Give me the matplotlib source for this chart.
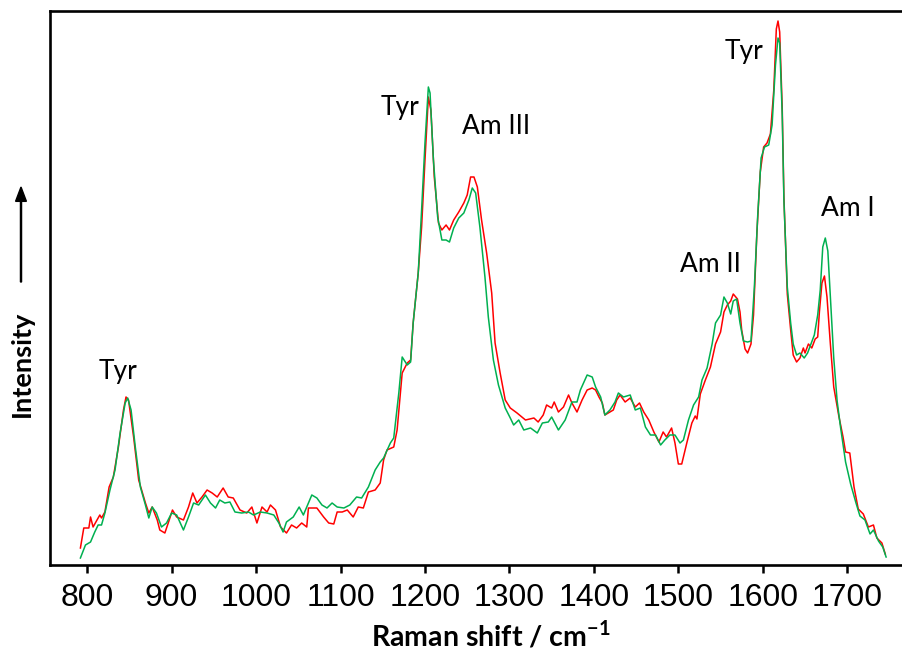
import matplotlib
matplotlib.use('Agg')
import matplotlib.pyplot as plt

# Raman spectra (arbitrary intensity units)
red_shift = [792, 796, 802, 804, 807, 815, 817, 821, 826, 831, 837, 843, 846, 849, 855, 861,
             869, 873, 877, 883, 886, 892, 896, 901, 906, 914, 920, 925, 930, 936, 942, 948,
             954, 961, 967, 973, 981, 989, 995, 1001, 1007, 1013, 1017, 1023, 1029, 1036, 1042,
             1048, 1054, 1060, 1062, 1072, 1080, 1086, 1092, 1096, 1102, 1108, 1115, 1121, 1127,
             1133, 1141, 1147, 1151, 1155, 1163, 1167, 1173, 1179, 1183, 1186, 1192, 1196, 1200,
             1204, 1207, 1211, 1216, 1220, 1225, 1229, 1234, 1240, 1246, 1250, 1254, 1258, 1262,
             1267, 1273, 1279, 1283, 1289, 1295, 1301, 1309, 1319, 1329, 1334, 1340, 1344, 1350,
             1353, 1358, 1364, 1370, 1374, 1380, 1386, 1392, 1398, 1402, 1406, 1410, 1413, 1419,
             1423, 1427, 1431, 1437, 1443, 1449, 1454, 1459, 1465, 1471, 1477, 1482, 1486, 1492,
             1496, 1500, 1504, 1510, 1516, 1520, 1522, 1526, 1532, 1538, 1544, 1550, 1554, 1558,
             1562, 1565, 1567, 1570, 1573, 1575, 1579, 1582, 1586, 1589, 1593, 1597, 1601, 1605,
             1609, 1613, 1616, 1618, 1620, 1623, 1625, 1629, 1633, 1636, 1640, 1644, 1648, 1650,
             1654, 1658, 1662, 1665, 1667, 1670, 1673, 1676, 1680, 1684, 1690, 1695, 1698, 1703,
             1708, 1713, 1719, 1725, 1731, 1735, 1741, 1745]
red_int = [17, 37, 37, 48, 38, 50, 47, 53, 78, 88, 118, 155, 168, 165, 128, 85,
           62, 52, 58, 45, 35, 32, 42, 55, 48, 45, 58, 72, 62, 68, 75, 72,
           68, 77, 68, 67, 55, 52, 58, 42, 58, 53, 60, 55, 38, 32, 40,
           37, 42, 38, 57, 57, 48, 42, 41, 53, 53, 55, 48, 58, 57,
           73, 75, 82, 105, 115, 118, 135, 192, 202, 205, 242, 292, 338, 405,
           468, 455, 388, 342, 335, 340, 335, 345, 353, 362, 370, 388, 388, 378,
           345, 312, 272, 222, 192, 165, 157, 152, 145, 147, 143, 150, 160, 157,
           163, 153, 158, 170, 162, 153, 165, 175, 177, 175, 168, 162, 150, 153,
           155, 165, 170, 163, 167, 158, 162, 153, 145, 133, 123, 133, 128, 137,
           122, 101, 101, 122, 142, 149, 146, 171, 185, 198, 221, 233, 253, 260,
           264, 271, 269, 266, 253, 235, 216, 212, 221, 250, 332, 393, 418, 422,
           431, 475, 536, 544, 533, 457, 368, 271, 235, 210, 203, 207, 217, 212,
           221, 217, 226, 228, 253, 282, 289, 268, 221, 178, 149, 128, 113, 112,
           78, 56, 51, 38, 40, 27, 22, 11]

green_shift = [792, 798, 804, 809, 813, 817, 821, 827, 833, 839, 845, 848, 852, 857, 863, 869,
               873, 877, 882, 888, 894, 900, 906, 914, 920, 926, 932, 940, 946, 952, 957, 963,
               969, 975, 983, 991, 997, 1005, 1013, 1021, 1027, 1032, 1036, 1044, 1051, 1056,
               1062, 1066, 1072, 1078, 1084, 1090, 1096, 1104, 1111, 1119, 1125, 1133, 1141,
               1147, 1151, 1159, 1163, 1169, 1173, 1179, 1183, 1186, 1192, 1196, 1200, 1204,
               1206, 1210, 1215, 1220, 1225, 1229, 1234, 1240, 1246, 1252, 1256, 1260, 1265,
               1271, 1275, 1281, 1287, 1295, 1301, 1305, 1311, 1317, 1325, 1333, 1339, 1346,
               1350, 1358, 1366, 1374, 1380, 1384, 1392, 1398, 1402, 1408, 1413, 1419, 1425,
               1429, 1435, 1443, 1449, 1455, 1461, 1467, 1473, 1479, 1484, 1490, 1496, 1502,
               1506, 1512, 1518, 1524, 1528, 1534, 1540, 1544, 1550, 1554, 1558, 1562, 1565,
               1569, 1573, 1577, 1582, 1586, 1590, 1594, 1598, 1602, 1607, 1611, 1615, 1618,
               1620, 1623, 1625, 1629, 1633, 1636, 1640, 1644, 1649, 1653, 1657, 1661, 1665,
               1668, 1671, 1674, 1677, 1680, 1684, 1688, 1692, 1698, 1704, 1710, 1715, 1721,
               1727, 1731, 1737, 1742, 1746]
green_int = [7, 20, 23, 33, 40, 40, 52, 75, 95, 132, 162, 167, 155, 118, 78, 60,
             47, 58, 52, 38, 42, 52, 50, 35, 48, 62, 60, 70, 62, 57, 65, 62,
             63, 53, 52, 53, 50, 53, 52, 50, 42, 33, 43, 48, 58, 50,
             62, 70, 67, 60, 57, 62, 58, 57, 60, 68, 67, 78, 95,
             103, 107, 122, 127, 172, 208, 200, 203, 242, 292, 355, 422, 478,
             472, 405, 348, 325, 325, 323, 337, 347, 352, 365, 377, 372, 338,
             288, 248, 205, 180, 157, 147, 140, 145, 135, 137, 132, 142, 143,
             148, 135, 145, 163, 163, 175, 190, 188, 178, 168, 150, 155, 163,
             172, 168, 170, 155, 157, 138, 130, 130, 120, 125, 130, 130, 122,
             125, 145, 160, 168, 185, 197, 221, 242, 250, 268, 262, 251, 264,
             266, 242, 224, 223, 224, 278, 350, 407, 418, 420, 440, 500, 527,
             522, 450, 364, 278, 242, 221, 210, 212, 207, 212, 221, 230, 250,
             275, 318, 327, 314, 268, 207, 164, 138, 103, 81, 63, 49, 45,
             31, 35, 24, 18, 8]

peak_names = ['Tyr', 'Tyr', 'Am III', 'Am II', 'Tyr', 'Am I']
peak_x = [837, 1171, 1284, 1538, 1578, 1701]
peak_y = [194, 457, 438, 300, 513, 357]

xticks = [800, 900, 1000, 1100, 1200, 1300, 1400, 1500, 1600, 1700]

plt.rcParams['font.family'] = ['Liberation Sans', 'DejaVu Sans']
plt.rcParams['mathtext.fontset'] = 'custom'
plt.rcParams['mathtext.rm'] = 'Lato'
plt.rcParams['mathtext.bf'] = 'Lato:bold'

fig = plt.figure(figsize=(9.03, 6.52), dpi=100)
ax = fig.add_axes([50 / 903, 87 / 652, 853 / 903, 554 / 652])

ax.plot(red_shift, red_int, color='#ff0000', lw=1.1)
ax.plot(green_shift, green_int, color='#00b050', lw=1.1)

for name, x, y in zip(peak_names, peak_x, peak_y):
    ax.text(x, y, name, ha='center', va='center', fontsize=19, family='Lato')

ax.set_xlim(756, 1766)
ax.set_ylim(0, 554)
ax.set_xticks(xticks)
ax.set_xticklabels([str(t) for t in xticks], fontsize=23, family='Liberation Sans')
ax.set_yticks([])
ax.tick_params(axis='x', direction='out', length=6, width=1.8, pad=7)
ax.spines['right'].set_visible(False)
for s in ['left', 'bottom', 'top']:
    ax.spines[s].set_linewidth(1.9)

fig.text(491 / 903, 1 - 635 / 652, 'Raman shift / cm$^{\\mathbf{-1}}$', ha='center',
         va='center', fontsize=20.5, fontweight='bold', family='Lato')
fig.text(22 / 903, 1 - 364 / 652, 'Intensity', rotation=90, ha='center', va='center',
         fontsize=19.5, fontweight='bold', family='Lato')
fig.patches.append(matplotlib.patches.FancyArrow(
    21 / 903, 1 - 282 / 652, 0, 95 / 652, width=0.0012, head_width=0.012,
    head_length=0.022, length_includes_head=True, color='black',
    transform=fig.transFigure, figure=fig))

fig.savefig('out.png', dpi=100)
